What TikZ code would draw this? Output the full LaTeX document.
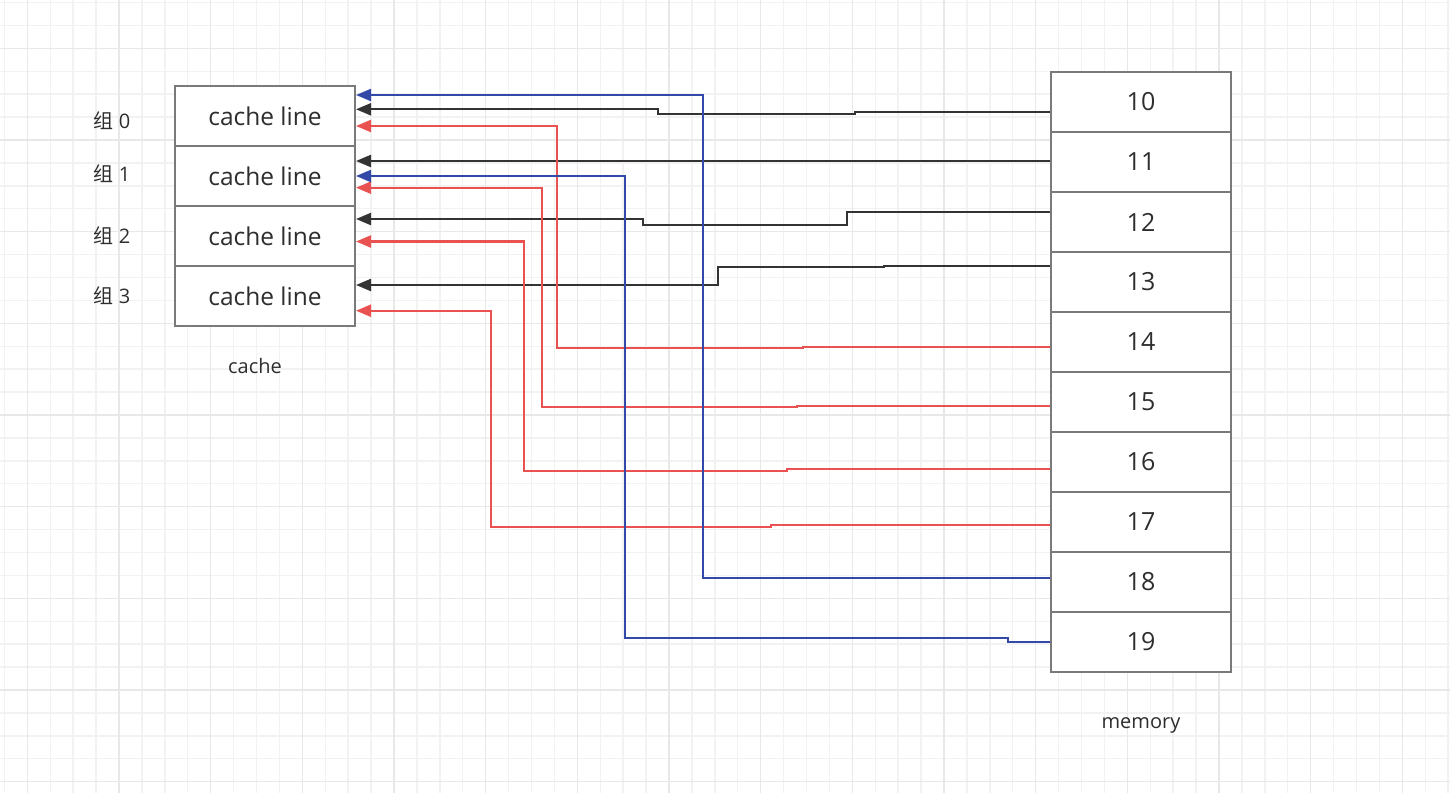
\documentclass[tikz,border=0pt]{standalone}
\usepackage{fontspec}
\setmainfont{Open Sans}
\newfontfamily\cjk{Noto Sans CJK SC}
\usetikzlibrary{arrows.meta,calc}
\definecolor{gminor}{HTML}{F2F2F2}
\definecolor{gmajor}{HTML}{E8E8E8}
\definecolor{boxgray}{HTML}{7A7A7A}
\definecolor{txt}{HTML}{2E2E2E}
\definecolor{cblk}{HTML}{333333}
\definecolor{cred}{HTML}{EA5252}
\definecolor{cblue}{HTML}{3349A8}
\tikzset{
  cl/.style={draw=boxgray, line width=2pt, fill=white, minimum width=180pt, minimum height=60pt, inner sep=0pt, text=txt, font=\fontsize{24.5}{27}\selectfont},
  mem/.style={draw=boxgray, line width=2pt, fill=white, minimum width=180pt, minimum height=60pt, inner sep=0pt, text=txt, font=\fontsize{25}{28}\selectfont},
  grp/.style={text=txt, inner sep=0pt, anchor=base, font=\fontsize{20}{23}\selectfont},
  caplabel/.style={text=txt, inner sep=0pt, anchor=base, font=\fontsize{20}{23}\selectfont},
  conn/.style={line width=2.2pt, -{Triangle[length=15pt,width=12pt]}},
  blk/.style={conn, draw=cblk},
  redc/.style={conn, draw=cred},
  bluec/.style={conn, draw=cblue},
}
\begin{document}
\begin{tikzpicture}[x=1pt,y=-1pt]
\useasboundingbox (0,0) rectangle (1450,793);
\fill[white] (0,0) rectangle (1450,793);
% grid
\foreach \i in {0,...,63} {
  \draw[gminor, line width=1.4pt] ({4.4+22.917*\i},0) -- ({4.4+22.917*\i},793);
}
\foreach \i in {0,...,34} {
  \draw[gminor, line width=1.4pt] (0,{2.5+22.917*\i}) -- (1450,{2.5+22.917*\i});
}
\foreach \i in {0,...,15} {
  \draw[gmajor, line width=1.4pt] ({27.3+91.667*\i},0) -- ({27.3+91.667*\i},793);
}
\foreach \i in {0,...,8} {
  \draw[gmajor, line width=1.4pt] (0,{48.3+91.667*\i}) -- (1450,{48.3+91.667*\i});
}
% cache
\node[cl] (c0) at (265,116) {cache line};
\node[cl] (c1) at (265,176) {cache line};
\node[cl] (c2) at (265,236) {cache line};
\node[cl] (c3) at (265,296) {cache line};
\node[grp] (g0) at (112,128.3) {{\cjk 组} 0};
\node[grp] (g1) at (112,181.3) {{\cjk 组} 1};
\node[grp] (g2) at (112,243.3) {{\cjk 组} 2};
\node[grp] (g3) at (112,303.3) {{\cjk 组} 3};
\node[caplabel] (cachelbl) at (255,373.3) {cache};
% memory
\foreach \n [count=\k from 0] in {10,...,19} {
  \node[mem] (m\n) at (1141,{102+60*\k}) {\n};
}
\node[caplabel] (memlbl) at (1141,728.3) {memory};
% connectors
\draw[blk] ($(m10.west)+(0,10.3)$) -- (855,112.3) -- (855,114) -- (658,114) |- ($(c0.east)+(0,-6.7)$);
\draw[blk] ($(m11.west)+(0,-1)$) -- ($(c1.east)+(0,-15)$);
\draw[blk] ($(m12.west)+(0,-10.3)$) -- (847.3,211.7) -- (847.3,225) -- (643.3,225) |- ($(c2.east)+(0,-17)$);
\draw[blk] ($(m13.west)+(0,-16.3)$) -- (884.3,265.7) -- (884.3,267.3) -- (717.7,267.3) |- ($(c3.east)+(0,-11)$);
\draw[redc] ($(m14.west)+(0,4.7)$) -- (803.3,346.7) -- (803.3,347.7) -- (556.7,347.7) |- ($(c0.east)+(0,10)$);
\draw[redc] ($(m15.west)+(0,3.7)$) -- (796.7,405.7) -- (796.7,406.7) -- (541.7,406.7) |- ($(c1.east)+(0,11.7)$);
\draw[redc] ($(m16.west)+(0,7.3)$) -- (787.3,469.3) -- (787.3,470.7) -- (524.3,470.7) |- ($(c2.east)+(0,5.5)$);
\draw[redc] ($(m17.west)+(0,3)$) -- (771,525) -- (771,526.7) -- (491,526.7) |- ($(c3.east)+(0,14.7)$);
\draw[bluec] ($(m18.west)+(0,-4)$) -- (702.7,578) |- ($(c0.east)+(0,-21)$);
\draw[bluec] ($(m19.west)+(0,-0.3)$) -- (1008.3,641.7) -- (1008.3,638.3) -- (625,638.3) |- ($(c1.east)+(0,0)$);
\end{tikzpicture}
\end{document}
